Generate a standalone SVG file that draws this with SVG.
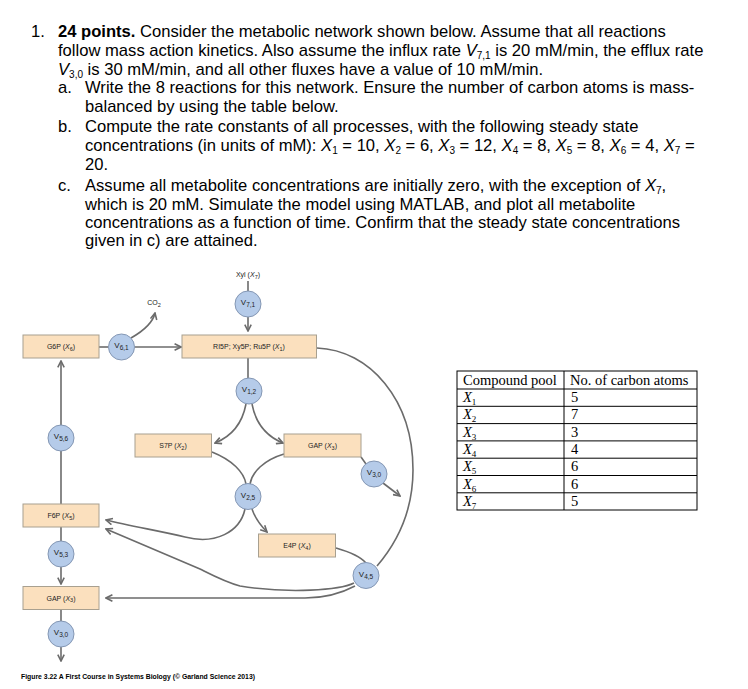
<svg xmlns="http://www.w3.org/2000/svg" width="748" height="689" viewBox="0 0 748 689">
<style>
.q{font-family:"Liberation Sans",Arial,sans-serif;font-size:16.6px;fill:#000}
.b{font-weight:bold}
.i{font-style:italic}
.s{font-size:10px}
.box{fill:#fbe0be;stroke:#a8a090;stroke-width:1}
.cir{fill:#b5cbe9;stroke:#8497b4;stroke-width:1}
.ln{fill:none;stroke:#6b6b6b;stroke-width:1.6}
.ar{fill:none;stroke:#6b6b6b;stroke-width:1.6;marker-end:url(#ah)}
.lb{font-family:"Liberation Sans",Arial,sans-serif;font-size:7px;fill:#222;text-anchor:middle}
.ls{font-size:5.5px}
.vl{font-family:"Liberation Sans",Arial,sans-serif;font-size:8px;fill:#222;text-anchor:middle}
.vs{font-size:6.5px}
.t{font-family:"Liberation Serif","Times New Roman",serif;font-size:14.5px;fill:#000}
.tl{fill:none;stroke:#000;stroke-width:1}
</style>
<defs>
<marker id="ah" viewBox="0 0 10 10" refX="9" refY="5" markerWidth="8" markerHeight="8" markerUnits="userSpaceOnUse" orient="auto">
<path d="M1,1 L9,5 L1,9" fill="none" stroke="#6b6b6b" stroke-width="2"/>
</marker>
</defs>
<rect width="748" height="689" fill="#fff"/>
<g id="question">
<text class="q" x="31" y="37">1.</text>
<text class="q" x="58" y="37"><tspan class="b">24 points.</tspan> Consider the metabolic network shown below. Assume that all reactions</text>
<text class="q" x="58" y="56">follow mass action kinetics. Also assume the influx rate <tspan class="i">V</tspan><tspan class="s" dy="3">7,1</tspan><tspan dy="-3"> is 20 mM/min, the efflux rate</tspan></text>
<text class="q" x="58" y="75"><tspan class="i">V</tspan><tspan class="s" dy="3">3,0</tspan><tspan dy="-3"> is 30 mM/min, and all other fluxes have a value of 10 mM/min.</tspan></text>
<text class="q" x="58" y="93">a.</text>
<text class="q" x="85" y="93">Write the 8 reactions for this network. Ensure the number of carbon atoms is mass-</text>
<text class="q" x="85" y="112">balanced by using the table below.</text>
<text class="q" x="58" y="132">b.</text>
<text class="q" x="85" y="132">Compute the rate constants of all processes, with the following steady state</text>
<text class="q" x="85" y="151">concentrations (in units of mM): <tspan class="i">X</tspan><tspan class="s" dy="3">1</tspan><tspan dy="-3"> = 10, </tspan><tspan class="i">X</tspan><tspan class="s" dy="3">2</tspan><tspan dy="-3"> = 6, </tspan><tspan class="i">X</tspan><tspan class="s" dy="3">3</tspan><tspan dy="-3"> = 12, </tspan><tspan class="i">X</tspan><tspan class="s" dy="3">4</tspan><tspan dy="-3"> = 8, </tspan><tspan class="i">X</tspan><tspan class="s" dy="3">5</tspan><tspan dy="-3"> = 8, </tspan><tspan class="i">X</tspan><tspan class="s" dy="3">6</tspan><tspan dy="-3"> = 4, </tspan><tspan class="i">X</tspan><tspan class="s" dy="3">7</tspan><tspan dy="-3"> =</tspan></text>
<text class="q" x="85" y="170">20.</text>
<text class="q" x="58" y="191">c.</text>
<text class="q" x="85" y="191">Assume all metabolite concentrations are initially zero, with the exception of <tspan class="i">X</tspan><tspan class="s" dy="3">7</tspan><tspan dy="-3">,</tspan></text>
<text class="q" x="85" y="210">which is 20 mM. Simulate the model using MATLAB, and plot all metabolite</text>
<text class="q" x="85" y="228">concentrations as a function of time. Confirm that the steady state concentrations</text>
<text class="q" x="85" y="246">given in c) are attained.</text>
</g>
<g id="connectors">
<line class="ln" x1="248" y1="281" x2="248" y2="291"/>
<line class="ar" x1="248" y1="317" x2="248" y2="331"/>
<line class="ln" x1="99" y1="347" x2="108" y2="347"/>
<line class="ar" x1="135" y1="347" x2="181" y2="347"/>
<path class="ar" d="M131 338 C145 330 153 322 155 313"/>
<line class="ln" x1="248" y1="358" x2="248" y2="378"/>
<path class="ar" d="M246 404 C242 425 230 437 215 443"/>
<path class="ar" d="M252 404 C256 425 268 437 283 443"/>
<path class="ln" d="M212 452 C232 460 244 472 246 484"/>
<path class="ln" d="M284 454 C264 460 252 472 250 484"/>
<line class="ln" x1="361" y1="457" x2="366" y2="464"/>
<line class="ar" x1="383" y1="483" x2="400" y2="496"/>
<path class="ar" d="M245 509 C240 532 215 545 185 537 C160 531 130 526 106 520"/>
<path class="ar" d="M252 509 C255 518 260 525 267 532"/>
<path class="ln" d="M336 548 C350 552 360 556 366 563"/>
<path class="ln" d="M317 348 C370 350 413 400 413 470 C413 515 395 545 377 566"/>
<path class="ar" d="M354 583 C340 590 290 594 240 586 C225 582 212 575 200 569 L106 529"/>
<path class="ar" d="M355 586 C340 594 325 598 305 598 L106 598"/>
<line class="ar" x1="61" y1="425" x2="61" y2="361"/>
<line class="ln" x1="61" y1="504" x2="61" y2="451"/>
<line class="ln" x1="61" y1="527" x2="61" y2="541"/>
<line class="ar" x1="61" y1="567" x2="61" y2="584"/>
<line class="ln" x1="61" y1="609" x2="61" y2="621"/>
<line class="ar" x1="61" y1="647" x2="61" y2="661"/>
</g>
<g id="xyl"><text class="lb" x="248" y="277">Xyl (<tspan font-style="italic">X</tspan><tspan class="ls" dy="1.5">7</tspan><tspan dy="-1.5">)</tspan></text></g>
<g id="co2"><text class="lb" x="154" y="305">CO<tspan class="ls" dy="1.5">2</tspan></text></g>
<g id="v71"><circle class="cir" cx="248" cy="304" r="13"/><text class="vl" x="248" y="305">V<tspan class="vs" dy="2">7,1</tspan></text></g>
<g id="g6p"><rect class="box" x="23" y="335" width="76" height="23"/><text class="lb" x="61" y="349">G6P (<tspan font-style="italic">X</tspan><tspan class="ls" dy="1.5">6</tspan><tspan dy="-1.5">)</tspan></text></g>
<g id="v61"><circle class="cir" cx="121.5" cy="347" r="13"/><text class="vl" x="121.5" y="348">V<tspan class="vs" dy="2">6,1</tspan></text></g>
<g id="ri5p"><rect class="box" x="182" y="335" width="134.5" height="23"/><text class="lb" x="249" y="349">RI5P; Xy5P; Ru5P (<tspan font-style="italic">X</tspan><tspan class="ls" dy="1.5">1</tspan><tspan dy="-1.5">)</tspan></text></g>
<g id="v12"><circle class="cir" cx="249" cy="391" r="13"/><text class="vl" x="249" y="392">V<tspan class="vs" dy="2">1,2</tspan></text></g>
<g id="v56"><circle class="cir" cx="61" cy="438" r="13"/><text class="vl" x="61" y="439">V<tspan class="vs" dy="2">5,6</tspan></text></g>
<g id="s7p"><rect class="box" x="135" y="434" width="76.5" height="23"/><text class="lb" x="173" y="448">S7P (<tspan font-style="italic">X</tspan><tspan class="ls" dy="1.5">2</tspan><tspan dy="-1.5">)</tspan></text></g>
<g id="gap1"><rect class="box" x="284" y="434" width="77" height="23"/><text class="lb" x="322.5" y="448">GAP (<tspan font-style="italic">X</tspan><tspan class="ls" dy="1.5">3</tspan><tspan dy="-1.5">)</tspan></text></g>
<g id="v30a"><circle class="cir" cx="374" cy="474" r="13"/><text class="vl" x="374" y="475">V<tspan class="vs" dy="2">3,0</tspan></text></g>
<g id="v25"><circle class="cir" cx="248" cy="496.5" r="13"/><text class="vl" x="248" y="497.5">V<tspan class="vs" dy="2">2,5</tspan></text></g>
<g id="f6p"><rect class="box" x="23" y="504" width="76" height="23"/><text class="lb" x="61" y="518">F6P (<tspan font-style="italic">X</tspan><tspan class="ls" dy="1.5">5</tspan><tspan dy="-1.5">)</tspan></text></g>
<g id="e4p"><rect class="box" x="258.5" y="534" width="77" height="23"/><text class="lb" x="297" y="548">E4P (<tspan font-style="italic">X</tspan><tspan class="ls" dy="1.5">4</tspan><tspan dy="-1.5">)</tspan></text></g>
<g id="v53"><circle class="cir" cx="61" cy="554" r="13"/><text class="vl" x="61" y="555">V<tspan class="vs" dy="2">5,3</tspan></text></g>
<g id="v45"><circle class="cir" cx="366" cy="575.5" r="13"/><text class="vl" x="366" y="576.5">V<tspan class="vs" dy="2">4,5</tspan></text></g>
<g id="gap2"><rect class="box" x="23" y="586.5" width="76" height="23"/><text class="lb" x="61" y="600.5">GAP (<tspan font-style="italic">X</tspan><tspan class="ls" dy="1.5">3</tspan><tspan dy="-1.5">)</tspan></text></g>
<g id="v30b"><circle class="cir" cx="61" cy="634" r="13"/><text class="vl" x="61" y="635">V<tspan class="vs" dy="2">3,0</tspan></text></g>
<g id="caption"><text x="21" y="679" font-family="'Liberation Sans',Arial,sans-serif" font-size="7.2" font-weight="bold" fill="#000" textLength="234" lengthAdjust="spacingAndGlyphs">Figure 3.22  A First Course in Systems Biology (© Garland Science 2013)</text></g>
<g id="table">
<rect class="tl" x="457" y="371" width="240" height="139"/>
<line class="tl" x1="564" y1="371" x2="564" y2="510"/>
<line class="tl" x1="457" y1="389" x2="697" y2="389"/>
<line class="tl" x1="457" y1="406.3" x2="697" y2="406.3"/>
<line class="tl" x1="457" y1="423.6" x2="697" y2="423.6"/>
<line class="tl" x1="457" y1="440.9" x2="697" y2="440.9"/>
<line class="tl" x1="457" y1="458.2" x2="697" y2="458.2"/>
<line class="tl" x1="457" y1="475.5" x2="697" y2="475.5"/>
<line class="tl" x1="457" y1="492.8" x2="697" y2="492.8"/>
<text class="t" x="463" y="385">Compound pool</text>
<text class="t" x="570" y="385">No. of carbon atoms</text>
<text class="t" x="463" y="402"><tspan font-style="italic">X</tspan><tspan font-size="9" dy="3">1</tspan></text><text class="t" x="571" y="402">5</text>
<text class="t" x="463" y="419.3"><tspan font-style="italic">X</tspan><tspan font-size="9" dy="3">2</tspan></text><text class="t" x="571" y="419.3">7</text>
<text class="t" x="463" y="436.6"><tspan font-style="italic">X</tspan><tspan font-size="9" dy="3">3</tspan></text><text class="t" x="571" y="436.6">3</text>
<text class="t" x="463" y="453.9"><tspan font-style="italic">X</tspan><tspan font-size="9" dy="3">4</tspan></text><text class="t" x="571" y="453.9">4</text>
<text class="t" x="463" y="471.2"><tspan font-style="italic">X</tspan><tspan font-size="9" dy="3">5</tspan></text><text class="t" x="571" y="471.2">6</text>
<text class="t" x="463" y="488.5"><tspan font-style="italic">X</tspan><tspan font-size="9" dy="3">6</tspan></text><text class="t" x="571" y="488.5">6</text>
<text class="t" x="463" y="505.8"><tspan font-style="italic">X</tspan><tspan font-size="9" dy="3">7</tspan></text><text class="t" x="571" y="505.8">5</text>
</g>
</svg>
